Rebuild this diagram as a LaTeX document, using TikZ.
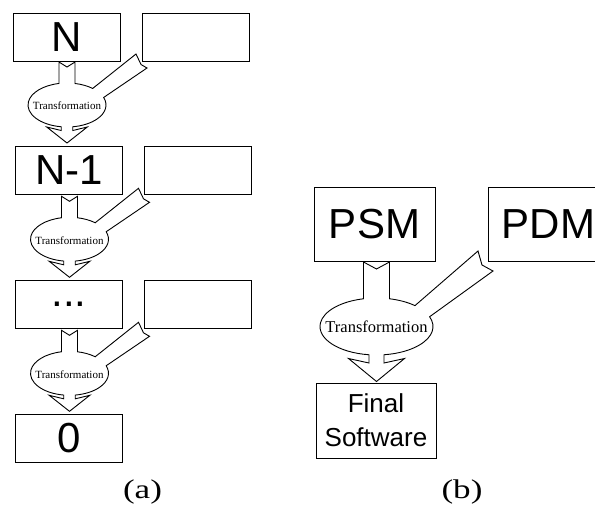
\documentclass[tikz,border=0pt]{standalone}
\usepackage{fontspec}
\setmainfont{Liberation Serif}
\setsansfont{Liberation Sans}
\newfontfamily\labelfont[FakeStretch=1.3]{Liberation Serif}

\tikzset{
  x=1pt, y=-1pt,
  outline/.style={draw=black, line width=0.9pt, line join=miter},
  modelbox/.style={outline, fill=white, inner sep=0pt, minimum width=107pt,
    minimum height=48pt, font=\sffamily\fontsize{42}{48}\selectfont},
  bigbox/.style={outline, fill=white, inner sep=0pt, minimum width=121pt,
    minimum height=74pt, font=\sffamily\fontsize{42}{48}\selectfont},
  finalbox/.style={outline, fill=white, inner sep=0pt, minimum width=120pt,
    minimum height=75pt, align=center, font=\sffamily\fontsize{26}{34}\selectfont},
  transtext/.style={inner sep=0pt, font=\fontsize{11}{13}\selectfont},
  bigtranstext/.style={inner sep=0pt, font=\fontsize{16.5}{19}\selectfont},
  sublabel/.style={inner sep=0pt, font=\labelfont\fontsize{27}{30}\selectfont},
  % stem from the source model, bulb, side arm towards the extra model, arrow out
  funnel/.pic={
    \draw[outline, fill=white]
      (-8,-43) -- (0,-38) -- (8,-43) -- (-78.2:39 and 22)
      arc[start angle=-78.2, end angle=-48.8, x radius=39, y radius=22]
      -- (69,-51) -- (74,-40.5) -- (80,-37) -- (-20:39 and 22)
      arc[start angle=-20, end angle=81.5, x radius=39, y radius=22]
      -- (5.8,25.5) -- (20.3,22) -- (0,38) -- (-20.3,22) -- (-5.8,25.5)
      -- (98.5:39 and 22)
      arc[start angle=98.5, end angle=258.2, x radius=39, y radius=22]
      -- cycle;
    \node[transtext] (-text) at (0,1) {Transformation};
  },
  bigfunnel/.pic={
    \draw[outline, fill=white]
      (-13,-64.5) -- (0,-57.5) -- (13,-64.5) -- (-76.7:56.5 and 28.5)
      arc[start angle=-76.7, end angle=-47.1, x radius=56.5, y radius=28.5]
      -- (101.5,-75.5) -- (105.5,-61.5) -- (116.5,-55.5) -- (-20:56.5 and 28.5)
      arc[start angle=-20, end angle=82.4, x radius=56.5, y radius=28.5]
      -- (7.5,36.5) -- (28,32) -- (0,55) -- (-28,32) -- (-7.5,36.5)
      -- (97.6:56.5 and 28.5)
      arc[start angle=97.6, end angle=256.7, x radius=56.5, y radius=28.5]
      -- cycle;
    \node[bigtranstext] (-text) at (0,0.5) {Transformation};
  }
}

\begin{document}
\begin{tikzpicture}
\useasboundingbox (0,0) rectangle (595,507);
\clip (0,0) rectangle (595,507);

% (a) chain of model levels
\node[modelbox] (levelN)   at (66.5,37)  {N};
\node[modelbox] (extraN)   at (195.5,37) {};
\node[modelbox] (levelNm1) at (69,170)   {N-1};
\node[modelbox] (extraNm1) at (197.5,170) {};
\node[modelbox] (leveldots) at (69,304)  {...};
\node[modelbox] (extradots) at (197.5,304) {};
\node[modelbox] (levelzero) at (69,438)  {0};

\pic (stepA) at (67,105) {funnel};
\pic (stepB) at (69.5,239.3) {funnel};
\pic (stepC) at (69.5,373.3) {funnel};

\node[sublabel] (capa) at (142.5,491.5) {(a)};

% (b) PSM + PDM to final software
\node[bigbox] (psm) at (374.5,224) {PSM};
\node[bigbox] (pdm) at (548.5,224) {PDM};
\node[finalbox] (final) at (376,420.5) {Final\\Software};

\pic (stepD) at (376.5,326.5) {bigfunnel};

\node[sublabel] (capb) at (462,491.5) {(b)};
\end{tikzpicture}
\end{document}
